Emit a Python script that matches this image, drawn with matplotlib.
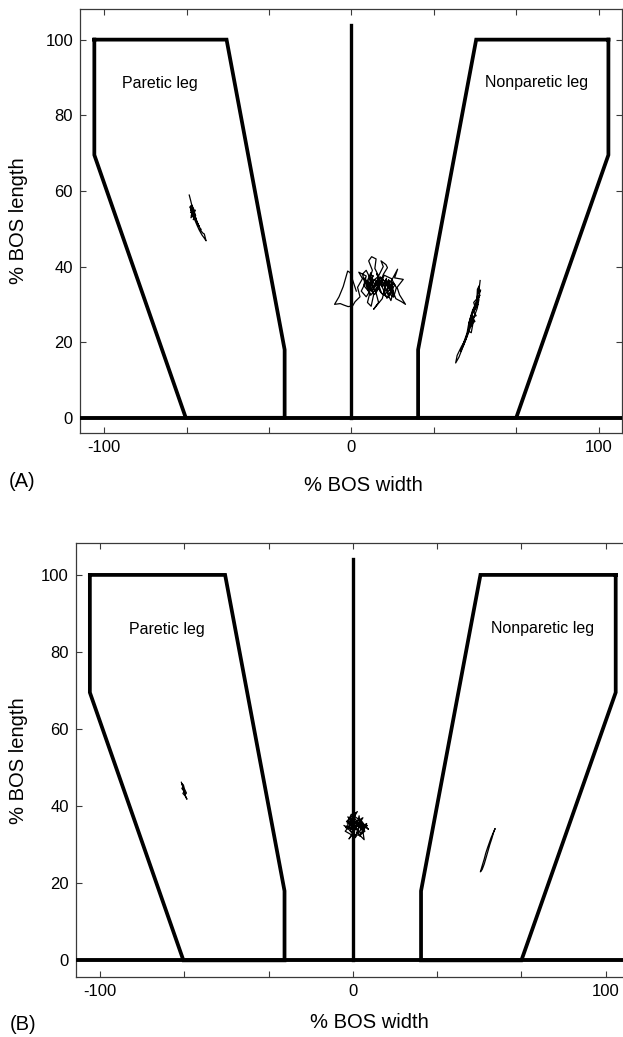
import matplotlib
matplotlib.use('Agg')
import matplotlib.pyplot as plt

plt.rcParams['font.family'] = ['Liberation Sans', 'DejaVu Sans']

# ---------------- data ----------------
x_ticks = [-100, -200 / 3, -100 / 3, 0, 100 / 3, 200 / 3, 100]
x_tick_labels = ['-100', '', '', '0', '', '', '100']
y_ticks = [0, 20, 40, 60, 80, 100]
y_tick_labels = ['0', '20', '40', '60', '80', '100']

# foot outlines (% BOS)
paretic_outline_x = [-104, -50.5, -27, -27, -67, -104, -104]
paretic_outline_y = [100, 100, 18, 0, 0, 69.5, 100]
nonparetic_outline_x = [104, 50.5, 27, 27, 66.7, 104, 104]
nonparetic_outline_y = [100, 100, 18, 0, 0, 69.5, 100]
midline_x = [0, 0]
midline_y = [0, 104]

# Panel A COP traces
a_paretic_x = [-65.6, -65.0, -64.6, -65.2, -64.3, -64.9, -63.8, -64.6, -63.5, -64.2, -65.1, -63.6,
               -64.8, -63.3, -64.5, -63.0, -64.0, -62.7, -63.9, -62.6, -63.5, -62.4, -63.1, -62.0,
               -62.6, -61.5, -62.0, -60.8, -61.3, -60.2, -59.5, -58.8, -59.6, -60.5, -61.6, -62.5,
               -63.4, -64.2, -63.1, -64.7, -63.7, -65.3, -64.4, -63.6, -64.9, -64.0, -63.2, -65.0]
a_paretic_y = [58.9, 57.4, 56.3, 55.6, 55.9, 54.8, 55.2, 53.9, 54.5, 53.2, 55.3, 54.0,
               53.6, 52.8, 55.0, 53.5, 52.4, 52.6, 54.2, 51.8, 53.1, 51.9, 52.4, 51.3,
               51.8, 50.6, 50.9, 49.8, 49.9, 48.9, 48.6, 46.8, 47.6, 48.4, 49.7, 51.0,
               52.4, 53.5, 54.9, 54.6, 53.0, 55.8, 56.2, 54.0, 52.9, 55.5, 53.7, 54.3]

a_center_x = [2.0, -0.5, -1.5, -3.3, -5.0, -6.8, -4.5, -3.0, -1.3, 0.5, 1.5, 3.5, 2.5, 4.5, 3.0, 6.0,
              5.0, 7.5, 6.5, 8.0, 9.0, 7.0, 8.5, 7.0, 8.2, 10.0, 9.5, 11.0, 12.9, 12.0, 14.0, 14.6,
              13.0, 11.5, 10.0, 11.0, 9.0, 12.5, 13.5, 15.0, 14.5, 16.0, 17.0, 16.0, 18.7, 17.5,
              21.0, 18.5, 19.5, 21.9, 20.3, 18.0, 16.5, 14.0, 12.5, 10.5, 9.0, 7.5, 6.0, 4.5, 5.5,
              4.0, 6.0, 8.0, 10.0, 12.0, 13.5, 15.5, 17.0, 15.0, 13.0, 11.5, 9.5, 7.0, 5.5,
              6.8, 8.8, 7.6, 9.8, 11.2, 10.3, 12.6, 14.2, 13.1, 15.6, 16.8, 15.2, 17.6, 16.4,
              14.8, 12.2, 10.8, 8.4, 6.4, 7.9, 9.2, 11.6, 13.8, 15.9, 14.4, 12.8, 10.6, 8.9, 7.2,
              5.2, 6.7, 9.4, 11.9, 13.3, 16.2, 18.2, 17.1, 14.9, 12.4, 10.1, 7.8, 5.9]
a_center_y = [33.5, 38.4, 38.8, 34.7, 32.0, 30.0, 30.2, 29.8, 29.4, 29.6, 30.7, 32.0, 34.5, 36.8, 38.5, 37.5,
              35.0, 33.0, 30.5, 29.5, 32.5, 36.0, 39.0, 41.5, 42.6, 42.0, 39.5, 37.5, 40.0, 41.5, 40.5, 39.7,
              38.0, 35.5, 33.0, 30.5, 28.7, 31.5, 34.0, 36.5, 33.0, 31.0, 33.5, 36.0, 39.3, 37.0,
              36.6, 34.5, 32.5, 30.0, 30.7, 31.5, 34.0, 36.5, 35.0, 36.5, 34.5, 37.0, 39.0, 38.0, 35.5,
              33.5, 32.0, 34.0, 35.5, 37.0, 36.0, 35.0, 35.5, 33.5, 32.5, 33.5, 36.5, 35.0, 37.0,
              34.2, 37.6, 35.8, 33.2, 36.2, 38.1, 34.6, 36.9, 33.1, 34.8, 32.2, 36.4, 35.2, 33.9,
              31.8, 32.9, 35.7, 33.6, 36.1, 38.4, 35.3, 37.3, 35.9, 33.4, 31.6, 34.1, 37.2, 36.3, 33.8,
              36.6, 34.9, 32.6, 35.4, 37.7, 36.8, 34.4, 31.9, 33.0, 36.0, 34.3, 32.4, 35.1]

a_nonparetic_x = [52.1, 51.5, 52.3, 51.0, 52.0, 50.5, 51.2, 49.5, 50.5, 48.8, 50.0, 48.0, 49.5, 48.5, 47.2,
                  48.3, 46.5, 45.0, 43.5, 42.2, 42.8, 44.5, 46.0, 47.5, 49.0, 50.2, 49.5, 50.8, 51.0, 51.8,
                  50.6, 49.2, 48.6, 49.9, 48.2, 47.6, 48.9, 50.3, 51.4, 50.1, 48.4, 47.4, 46.8, 45.6,
                  44.2, 45.4, 47.0, 48.1, 49.6, 50.9, 51.6]
a_nonparetic_y = [36.3, 33.0, 33.8, 31.0, 32.5, 29.5, 30.0, 28.0, 27.0, 26.5, 25.5, 24.5, 26.0, 22.5, 23.0,
                  25.0, 21.0, 18.5, 16.0, 14.5, 16.5, 18.8, 20.5, 23.5, 27.5, 29.0, 30.5, 31.5, 34.0, 35.0,
                  30.8, 28.6, 25.8, 27.2, 24.0, 25.2, 28.2, 29.8, 32.0, 29.2, 26.9, 24.6, 22.4, 20.2,
                  17.6, 19.2, 21.8, 23.8, 26.6, 28.9, 31.2]

# Panel B COP traces
b_paretic_x = [-67.8, -67.2, -67.6, -66.7, -67.2, -66.2, -65.6, -66.4, -65.8, -66.6, -67.0, -67.5,
               -66.9, -66.3, -66.8, -67.3]
b_paretic_y = [46.2, 45.0, 44.6, 43.8, 43.3, 42.6, 41.8, 42.9, 43.4, 44.5, 45.5, 45.8,
               44.2, 43.1, 44.0, 45.2]

b_center_x = [0.5, -2.5, 1.0, -0.5, -3.5, 0.2, -1.5, 1.5, 2.5, 3.0, 5.5, 2.0, 4.5, 3.5, 6.2, 3.0,
              1.2, -1.0, 0.8, -2.0, 2.2, 4.0, 1.5, -0.8, -3.0, -0.3, 2.5, 4.8, 2.0, 0.0, 1.8,
              -1.8, 0.6, 3.2, 5.0, 2.8, 0.4, -2.2, -0.6, 1.9, 4.2, 3.6, 1.0, -1.2, 0.9, 2.6, -2.8,
              -0.2, 3.9, 5.8, 1.4]
b_center_y = [35.5, 36.0, 38.3, 34.0, 35.0, 33.0, 31.5, 34.5, 37.5, 34.0, 35.5, 33.0, 31.3, 35.5, 34.0, 36.0,
              32.0, 33.5, 36.5, 37.2, 35.0, 37.0, 36.0, 35.2, 33.5, 32.5, 32.5, 33.5, 35.8, 37.5, 38.6,
              34.6, 33.8, 36.4, 34.8, 32.2, 35.9, 35.6, 37.9, 36.8, 35.2, 32.9, 34.2, 36.2, 31.8, 34.9,
              34.4, 36.9, 33.7, 35.0, 35.4]

b_nonparetic_x = [50.5, 51.3, 52.0, 52.6, 53.3, 54.0, 54.7, 55.5, 56.3, 55.7, 55.0, 54.2, 53.5, 52.8, 52.0,
                  51.2, 50.8]
b_nonparetic_y = [23.0, 24.8, 26.3, 27.8, 29.2, 30.5, 31.8, 33.0, 34.2, 33.2, 31.6, 30.0, 28.4, 26.8, 25.0,
                  23.6, 23.2]

panel_labels = ['(A)', '(B)']
leg_labels = ['Paretic leg', 'Nonparetic leg']

# ---------------- figure ----------------
W, H = 623, 1037
fig = plt.figure(figsize=(W / 100, H / 100), dpi=100)

axA = fig.add_axes([80 / W, 1 - 432.7 / H, 542 / W, (432.7 - 9) / H])
axB = fig.add_axes([75.7 / W, 1 - 977.3 / H, 555.3 / W, (977.3 - 543.3) / H])

spine_col = '#3a3a3a'


def draw_panel(ax, xlim, ylim, traces, text_pos, xlab_coords, ylab_coords):
    ax.set_xlim(*xlim)
    ax.set_ylim(*ylim)
    for sx, sy in [(paretic_outline_x, paretic_outline_y),
                   (nonparetic_outline_x, nonparetic_outline_y)]:
        ax.plot(sx, sy, color='black', lw=2.7, solid_joinstyle='miter', zorder=3)
    ax.plot(midline_x, midline_y, color='black', lw=2.4, zorder=3)
    ax.axhline(0, color='black', lw=2.8, zorder=3)
    for tx, ty in traces:
        ax.plot(tx, ty, color='black', lw=0.9, zorder=4)
    for (px, py), lab in zip(text_pos, leg_labels):
        ax.text(px, py, lab, ha='center', va='center', fontsize=11.5)
    ax.set_xticks(x_ticks)
    ax.set_xticklabels(x_tick_labels)
    ax.set_yticks(y_ticks)
    ax.set_yticklabels(y_tick_labels)
    ax.tick_params(direction='in', length=4, width=0.8, top=True, right=True,
                   labelsize=12, pad=5, color=spine_col)
    for s in ax.spines.values():
        s.set_color(spine_col)
        s.set_linewidth(0.9)
    ax.set_xlabel('% BOS width', fontsize=14.5)
    ax.set_ylabel('% BOS length', fontsize=14.5)
    ax.xaxis.label.set_va('center')
    ax.yaxis.label.set_va('center')
    ax.xaxis.set_label_coords(*xlab_coords)
    ax.yaxis.set_label_coords(*ylab_coords)


draw_panel(axA, (-109.8, 109.5), (-3.94, 108.1),
           [(a_paretic_x, a_paretic_y), (a_center_x, a_center_y),
            (a_nonparetic_x, a_nonparetic_y)],
           [(-77.4, 88.4), (75.0, 88.6)],
           ((363 - 80) / 542, (432.7 - 485.7) / 423.7),
           ((19 - 80) / 542, 0.5))

draw_panel(axB, (-109.6, 110.05), (-4.4, 108.2),
           [(b_paretic_x, b_paretic_y), (b_center_x, b_center_y),
            (b_nonparetic_x, b_nonparetic_y)],
           [(-73.7, 85.8), (75.1, 86.0)],
           ((369.5 - 75.7) / 555.3, (977.3 - 1023) / 434),
           ((18 - 75.7) / 555.3, 0.5))

fig.text(22 / W, 1 - 481.7 / H, panel_labels[0], ha='center', va='center', fontsize=14.5)
fig.text(23.5 / W, 1 - 1024 / H, panel_labels[1], ha='center', va='center', fontsize=14.5)

fig.savefig('out.png', dpi=100)
